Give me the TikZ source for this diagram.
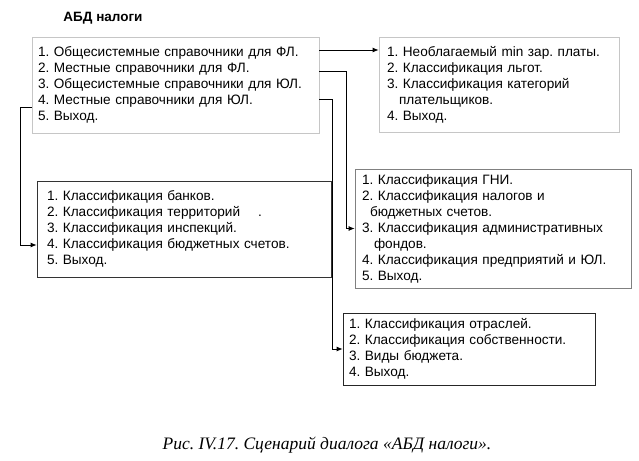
\documentclass[tikz,border=0pt]{standalone}
\usepackage{fontspec}
\setmainfont{Liberation Sans}
\newfontfamily\capfont{Liberation Serif}
\usetikzlibrary{arrows.meta}
\frenchspacing
\tikzset{menu/.style={draw, rectangle, align=left, line width=0.8pt, inner ysep=0pt, font=\fontsize{13.6}{16}\selectfont}}
\tikzset{link/.style={-{Latex[length=6pt,width=5pt]}, line width=0.8pt}}

\begin{document}
\begin{tikzpicture}[x=1pt,y=-1pt]
\useasboundingbox (0,0) rectangle (639,460);
\node[font=\bfseries\fontsize{13.5}{16}\selectfont] (title) at (103,18) {АБД налоги};
\node[menu, draw=gray!45, inner xsep=6pt, text width=275pt, minimum height=96pt] (main) at (175.5,85) {1. Общесистемные справочники для ФЛ.\\2. Местные справочники для ФЛ.\\3. Общесистемные справочники для ЮЛ.\\4. Местные справочники для ЮЛ.\\5. Выход.};
\node[menu, draw=gray!45, inner xsep=8pt, text width=224pt, minimum height=95pt] (r1) at (499,84.5) {1. Необлагаемый min зар. платы.\\2. Классификация льгот.\\3. Классификация категорий\\\hspace*{12pt}плательщиков.\\4. Выход.};
\node[menu, draw=black!80, inner xsep=10pt, text width=274pt, minimum height=96pt] (lft) at (184,229) {1. Классификация банков.\\2. Классификация территорий\hspace{18pt}.\\3. Классификация инспекций.\\4. Классификация бюджетных счетов.\\5. Выход.};
\node[menu, draw=gray, inner xsep=7pt, text width=262pt, minimum height=119pt] (mid) at (493,228.5) {1. Классификация ГНИ.\\2. Классификация налогов и\\\hspace*{8pt}бюджетных счетов.\\3. Классификация административных\\\hspace*{12pt}фондов.\\4. Классификация предприятий и ЮЛ.\\5. Выход.};
\node[menu, draw=black!85, inner xsep=6pt, text width=240pt, minimum height=72pt] (bot) at (469,349) {1. Классификация отраслей.\\2. Классификация собственности.\\3. Виды бюджета.\\4. Выход.};
\node[font=\capfont\itshape\fontsize{17.5}{20}\selectfont] (caption) at (327,445) {Рис. IV.17. Сценарий диалога «АБД налоги».};
% переходы между меню
\draw[link] ([yshift=35pt]main.east) -- ([yshift=35pt]main.east -| r1.west);
\draw[link] ([yshift=14pt]main.east) -- ++(27,0) |- (mid.west);
\draw[link] ([yshift=-14pt]main.east) -- ++(13,0) |- (bot.west);
\draw[link] ([yshift=-22pt]main.west) -- ++(-11,0) |- ([yshift=-16pt]lft.west);
\end{tikzpicture}
\end{document}
